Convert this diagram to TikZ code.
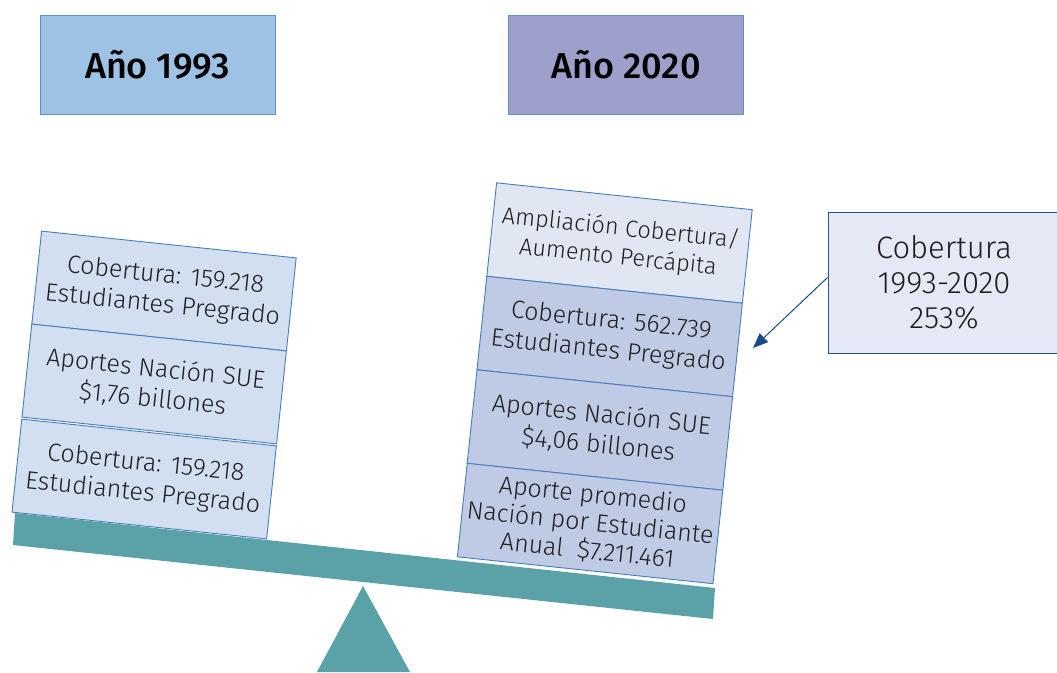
\documentclass[tikz,border=0pt]{standalone}
\usepackage{fontspec}
\IfFontExistsTF{Fira Sans Light}{\setmainfont{Fira Sans Light}[BoldFont={Fira Sans Medium}]}{\setmainfont{Fira Sans}}
\usetikzlibrary{arrows.meta}
\definecolor{beamc}{RGB}{91,161,168}
\definecolor{hdrA}{RGB}{157,194,228}
\definecolor{hdrB}{RGB}{158,160,204}
\definecolor{hdrline}{RGB}{91,146,205}
\definecolor{boxL}{RGB}{210,223,240}
\definecolor{boxR1}{RGB}{224,230,242}
\definecolor{boxR}{RGB}{191,202,228}
\definecolor{boxline}{RGB}{70,125,190}
\definecolor{callfill}{RGB}{228,233,245}
\definecolor{callline}{RGB}{40,80,150}
\definecolor{arrowc}{RGB}{25,75,140}
\definecolor{txt}{RGB}{30,30,30}
\begin{document}
\begin{tikzpicture}[x=1pt,y=-1pt,
  hdr/.style={draw=hdrline, line width=0.8pt, minimum width=235pt, minimum height=99pt, inner sep=0pt,
    font=\fontsize{36}{40}\selectfont\bfseries},
  stackbox/.style={draw=boxline, line width=0.9pt, rotate=-6, minimum width=256pt, minimum height=93.5pt,
    inner sep=0pt, align=center, text=txt, font=\fontsize{25}{30}\selectfont},
  callout/.style={draw=callline, line width=1pt, fill=callfill, minimum width=232pt, minimum height=141pt,
    inner sep=0pt, align=center, text=txt, font=\fontsize{31}{35}\selectfont}]
\useasboundingbox (0,0) rectangle (1057,672);
% headers
\node[hdr, fill=hdrA] (h1) at (157.5,64.5) {Año 1993};
\node[hdr, fill=hdrB] (h2) at (626,64.5) {Año 2020};
% left stack
\node[stackbox, fill=boxL] (l1) at (164,291) {Cobertura: 159.218\\Estudiantes Pregrado};
\node[stackbox, fill=boxL] (l2) at (154.2,384) {Aportes Nación SUE\\\$1,76 billones};
\node[stackbox, fill=boxL] (l3) at (144.2,479) {Cobertura: 159.218\\Estudiantes Pregrado};
% right stack
\node[stackbox, fill=boxR1, minimum width=257pt, minimum height=94pt, font=\fontsize{23.5}{29}\selectfont] (r1) at (619.5,243) {Ampliación Cobertura/\\Aumento Percápita};
\node[stackbox, fill=boxR, minimum width=257pt, minimum height=94pt] (r2) at (609.7,336.5) {Cobertura: 562.739\\Estudiantes Pregrado};
\node[stackbox, fill=boxR, minimum width=257pt, minimum height=94pt] (r3) at (599.9,430) {Aportes Nación SUE\\\$4,06 billones};
\node[stackbox, fill=boxR, minimum width=257pt, minimum height=94pt, font=\fontsize{25}{28}\selectfont] (r4) at (590.1,523.5) {Aporte promedio\\Nación por Estudiante\\Anual~ \$7.211.461};
% beam and fulcrum
\fill[beamc] (15,513) -- (715,588) -- (713,619) -- (13,545) -- cycle;
\fill[beamc] (363,586) -- (410,672) -- (317,672) -- cycle;
% callout
\node[callout] (cob) at (944,282.5) {Cobertura\\1993-2020\\253\%};
\coordinate (tip) at (753,348);
\draw[arrowc, line width=1pt, -{Triangle[length=15pt,width=12pt]}] ([yshift=5pt]cob.west) -- (tip);
\end{tikzpicture}
\end{document}
